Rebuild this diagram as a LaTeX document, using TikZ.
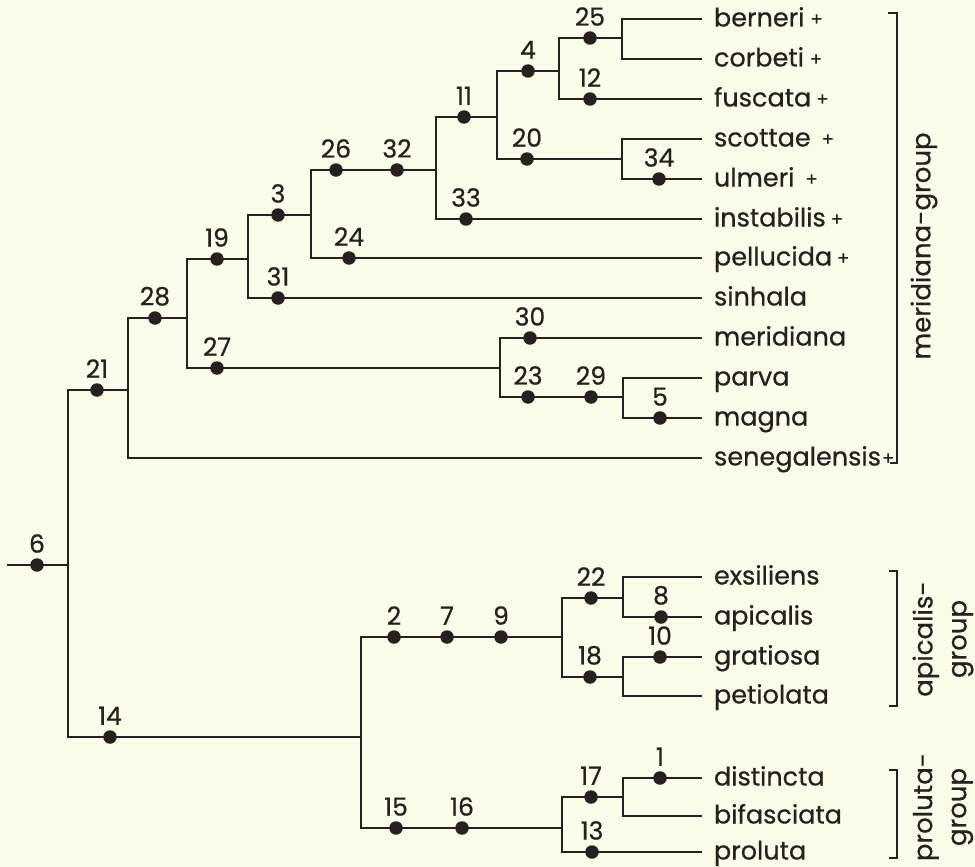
\documentclass[tikz,border=0pt]{standalone}
\usepackage{fontspec}
\setmainfont{Poppins}
\newfontfamily\lblfont{Poppins}[FakeBold=0.6]
\definecolor{bg}{RGB}{250,252,234}
\definecolor{ink}{RGB}{40,32,32}
\newcommand{\plusmark}[1]{\hspace{#1}\raisebox{1pt}{\fontsize{18}{18}\selectfont +}}
\begin{document}
\begin{tikzpicture}[x=1pt,y=-1pt,line width=2pt,draw=ink,
  dot/.style={circle,fill=ink,draw=none,inner sep=0pt,minimum size=13.5pt},
  num/.style={font=\lblfont\fontsize{25}{25}\selectfont,inner sep=0pt,text=ink},
  label distance=3.5pt,
  leaf/.style={anchor=west,inner xsep=11pt,inner ysep=0pt,text height=20pt,text depth=5pt,font=\lblfont\fontsize{25.5}{25.5}\selectfont,text=ink},
  grp/.style={rotate=90,align=center,font=\lblfont\fontsize{26}{34}\selectfont,text=ink,inner sep=0pt},
  brk/.style={draw=ink,line width=2pt}]
\fill[bg] (0,0) rectangle (975,867);
\useasboundingbox (0,0) rectangle (975,867);
% dots
\foreach \n/\x/\y in {6/37/565,21/97/390,28/155/318,19/217/259,3/278/215,26/336/170,32/397/170,
  11/464/117,4/528/71,25/590/38,12/590/99,20/527/159,34/659/179,33/466/219,24/349/258,31/278/298,
  27/217/368,30/530/338,23/528/397,29/591/397,5/660/418,14/110/737,2/394/637,7/447/637,9/501/637,
  22/591/598,8/661/617,18/590/677,10/660/657,15/396/828,16/462/828,17/591/797,1/660/778,13/592/852}
  \node[dot,label={[num]above:\n}] (n\n) at (\x,\y) {};
% junctions
\coordinate (r0) at (7,565);
\foreach \n/\x/\y in {6/68/565,21/128/390,28/187/318,19/248/259,3/311/215,32/436/170,11/497/117,
  4/559/71,25/622/38,20/622/159,27/500/368,29/623/397,14/361/737,9/562/637,22/623/598,18/623/677,
  16/562/828,17/623/797}
  \coordinate (j\n) at (\x,\y);
% leaves
\node[leaf] (berneri) at (702,19) {berneri\plusmark{6pt}};
\node[leaf] (corbeti) at (702,59) {corbeti\plusmark{6pt}};
\node[leaf] (fuscata) at (702,99) {fuscata\plusmark{5pt}};
\node[leaf] (scottae) at (702,139) {scottae\plusmark{11pt}};
\node[leaf] (ulmeri) at (702,179) {ulmeri\plusmark{11pt}};
\node[leaf] (instabilis) at (702,219) {instabilis\plusmark{5pt}};
\node[leaf] (pellucida) at (702,258) {pellucida\plusmark{5pt}};
\node[leaf] (sinhala) at (702,298) {sinhala};
\node[leaf] (meridiana) at (702,338) {meridiana};
\node[leaf] (parva) at (702,378) {parva};
\node[leaf] (magna) at (702,418) {magna};
\node[leaf] (senegalensis) at (702,458) {senegalensis\plusmark{1pt}};
\node[leaf] (exsiliens) at (702,577) {exsiliens};
\node[leaf] (apicalis) at (702,617) {apicalis};
\node[leaf] (gratiosa) at (702,657) {gratiosa};
\node[leaf] (petiolata) at (702,696) {petiolata};
\node[leaf] (distincta) at (702,778) {distincta};
\node[leaf] (bifasciata) at (702,816) {bifasciata};
\node[leaf] (proluta) at (702,852) {proluta};
% edges
\draw (r0) -- (n6.center) -- (j6);
\draw (n21.center) -| (j6) |- (n14.center);
\draw (n21.center) -- (j21);
\draw (n28.center) -| (j21) |- (senegalensis);
\draw (n28.center) -- (j28);
\draw (n19.center) -| (j28) |- (n27.center);
\draw (n19.center) -- (j19);
\draw (n3.center) -| (j19) |- (n31.center);
\draw (n31.center) -- (sinhala);
\draw (n3.center) -- (j3);
\draw (n26.center) -| (j3) |- (n24.center);
\draw (n24.center) -- (pellucida);
\draw (n26.center) -- (n32.center) -- (j32);
\draw (n11.center) -| (j32) |- (n33.center);
\draw (n33.center) -- (instabilis);
\draw (n11.center) -- (j11);
\draw (n4.center) -| (j11) |- (n20.center);
\draw (n4.center) -- (j4);
\draw (n25.center) -| (j4) |- (n12.center);
\draw (n12.center) -- (fuscata);
\draw (n25.center) -- (j25);
\draw (berneri) -| (j25) |- (corbeti);
\draw (n20.center) -- (j20);
\draw (scottae) -| (j20) |- (n34.center);
\draw (n34.center) -- (ulmeri);
\draw (n27.center) -- (j27);
\draw (n30.center) -| (j27) |- (n23.center);
\draw (n30.center) -- (meridiana);
\draw (n23.center) -- (n29.center) -- (j29);
\draw (parva) -| (j29) |- (n5.center);
\draw (n5.center) -- (magna);
\draw (n14.center) -- (j14);
\draw (n2.center) -| (j14) |- (n15.center);
\draw (n2.center) -- (n7.center) -- (n9.center) -- (j9);
\draw (n22.center) -| (j9) |- (n18.center);
\draw (n22.center) -- (j22);
\draw (exsiliens) -| (j22) |- (n8.center);
\draw (n8.center) -- (apicalis);
\draw (n18.center) -- (j18);
\draw (n10.center) -| (j18) |- (petiolata);
\draw (n10.center) -- (gratiosa);
\draw (n15.center) -- (n16.center) -- (j16);
\draw (n17.center) -| (j16) |- (n13.center);
\draw (n13.center) -- (proluta);
\draw (n17.center) -- (j17);
\draw (n1.center) -| (j17) |- (bifasciata);
\draw (n1.center) -- (distincta);
% brackets
\draw[brk] (888,13) -- (897,13) -- (897,463) -- (890,463);
\draw[brk] (889,571) -- (897,571) -- (897,706) -- (889,706);
\draw[brk] (889,770) -- (897,770) -- (897,858) -- (889,858);
\node[grp] (gmer) at (924,246) {meridiana-group};
\node[grp] (gapi) at (943,639) {apicalis-\\group};
\node[grp] (gpro) at (943,807) {proluta-\\group};
\end{tikzpicture}
\end{document}
